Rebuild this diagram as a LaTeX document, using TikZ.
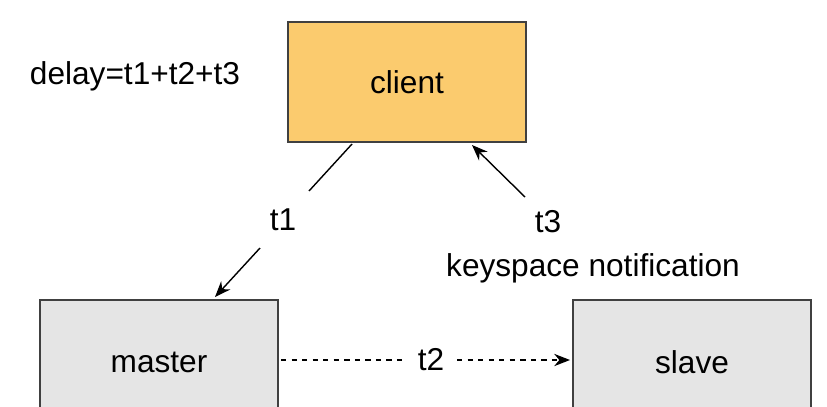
\documentclass[tikz,border=0pt]{standalone}
\usepackage{fontspec}
\setmainfont{Liberation Sans}
\usetikzlibrary{arrows.meta}
\begin{document}
\begin{tikzpicture}[x=0.02cm,y=-0.02cm,
  box/.style={draw=black!75,line width=0.8pt},
  lbl/.style={font=\fontsize{18}{20}\selectfont,inner sep=0pt},
  arr/.style={line width=0.8pt,-{Stealth[length=9pt,width=7pt]}}]
\useasboundingbox (0,0) rectangle (827,406);
\begin{scope}
\clip (0,0) rectangle (827,406);
\draw[box,fill={rgb,255:red,251;green,203;blue,110}] (288,22) rectangle (526,142);
\draw[box,fill=black!10] (40,300) rectangle (278,420);
\draw[box,fill=black!10] (573,300) rectangle (811,420);
\end{scope}
\node[lbl] (c) at (407,82) {client};
\node[lbl] (m) at (159,362) {master};
\node[lbl] (s) at (692,362) {slave};
\node[lbl] (d) at (135,76) {delay=t1+t2+t3};
\node[lbl] (t1) at (283,220) {t1};
\node[lbl] (t3) at (548,222) {t3};
\node[lbl] (k) at (593,268) {keyspace notification};
\node[lbl] (t2) at (431,360) {t2};
\coordinate (a1) at (352,144);
\coordinate (a2) at (309,191);
\coordinate (b1) at (260,248);
\coordinate (b2) at (215,297);
\draw[line width=0.8pt] (a1) -- (a2);
\draw[arr] (b1) -- (b2);
\coordinate (c1) at (525,197);
\coordinate (c2) at (472,145);
\draw[arr] (c1) -- (c2);
\coordinate (d1) at (281,360);
\coordinate (d2) at (405,360);
\coordinate (e1) at (457,360);
\coordinate (e2) at (570,360);
\draw[line width=0.8pt,dashed] (d1) -- (d2);
\draw[arr,dashed] (e1) -- (e2);
\end{tikzpicture}
\end{document}
